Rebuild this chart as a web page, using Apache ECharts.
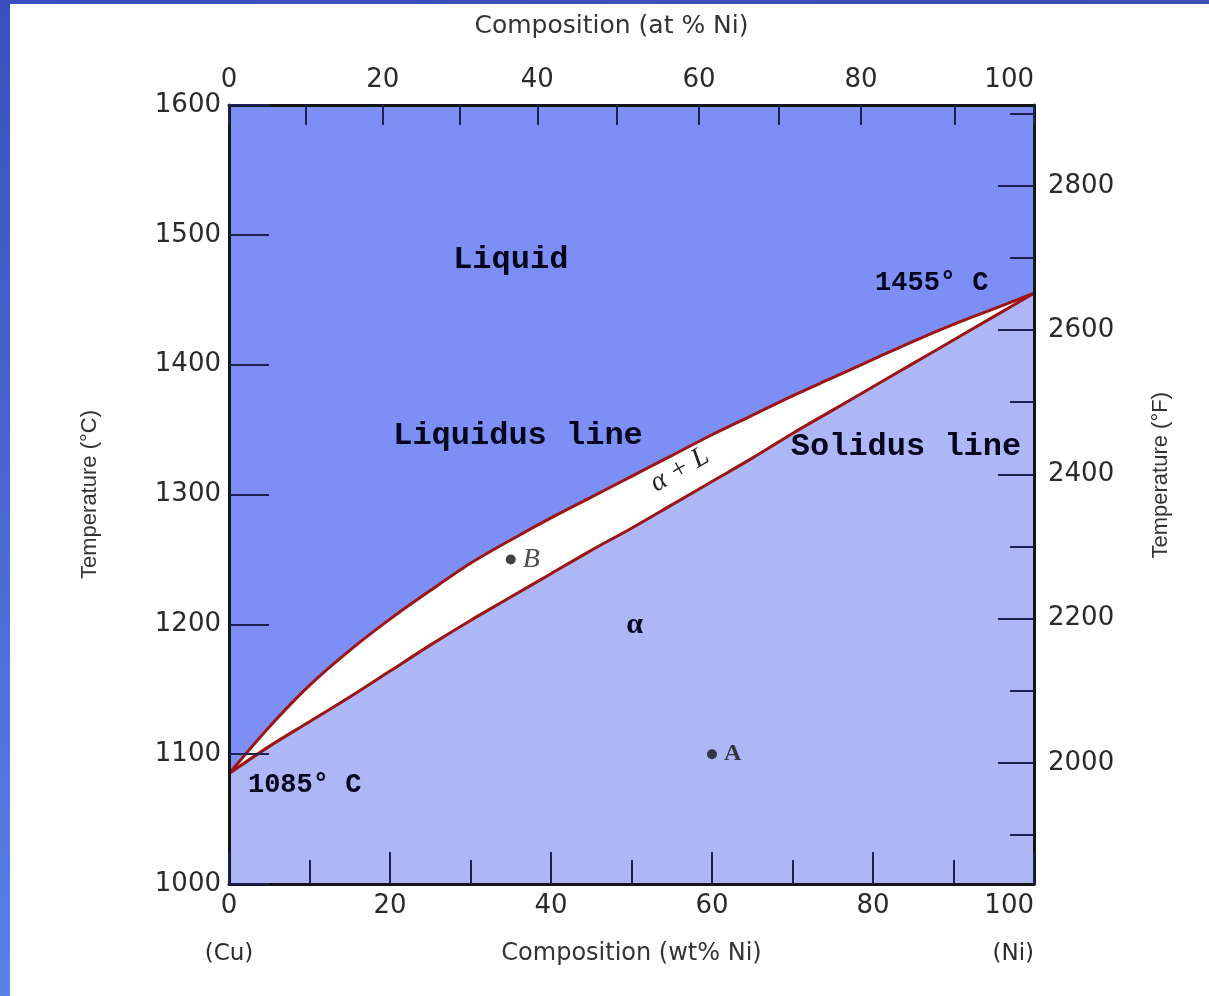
<!DOCTYPE html>
<html>
<head>
<meta charset="utf-8">
<script src="https://cdn.jsdelivr.net/npm/echarts@6/dist/echarts.min.js"></script>
<style>
html,body{margin:0;padding:0;background:#fff;}
#chart{width:1209px;height:996px;}
</style>
</head>
<body>
<div id="chart"></div>
<script>
// ---- data ----
const wtPct = [0,5,10,15,20,25,30,35,40,45,50,55,60,65,70,75,80,85,90,95,100];
const liquidusC = [1085,1121,1153,1180,1204,1226,1247,1265,1282,1298,1314,1330,1346,1361,1376,1390,1404,1418,1431,1443,1455];
const solidusC  = [1085,1106,1125,1144,1164,1184,1203,1221,1239,1257,1274,1292,1310,1328,1347,1365,1383,1401,1419,1437,1455];

// top axis: atomic % Ni ticks, placed at their wt% equivalents
const topAtPct = [0,10,20,30,40,50,60,70,80,90,100];
const topAtWt  = [0,9.5,19.1,28.7,38.3,48.2,58.4,68.3,78.5,90.1,100];
const topLabelAt = [0,20,40,60,80,100];

// °F axis ticks
const fMajor = [2000,2200,2400,2600,2800];
const fMinor = [1900,2100,2300,2500,2700,2900];

const points = [
  {name:'A', wt:60, t:1100},
  {name:'B', wt:35, t:1250}
];

const regionLabels = [
  {text:'Liquid', wt:35.0, t:1481},
  {text:'Liquidus line', wt:35.9, t:1345},
  {text:'Solidus line', wt:84.1, t:1337},
  {text:'1455° C', wt:87.3, t:1463},
  {text:'1085° C', wt:9.4, t:1076},
  {text:'α', wt:50.4, t:1199},
  {text:'α + L', wt:56.0, t:1319}
];

const cMin = 1000, cMax = 1600;
const fMin = cMin*9/5+32, fMax = cMax*9/5+32;

// ---- styling ----
const liquidColor = '#7d8ff4';
const alphaColor = '#adb7f6';
const curveColor = '#9c1414';
const inkColor = '#05061e';
const axisInk = '#151515';
const tickInk = '#1d2150';
const labelInk = '#2a2a2a';

const liqData = wtPct.map((w,i)=>[w, liquidusC[i]]);
const solData = wtPct.map((w,i)=>[w, solidusC[i]]);

const labelStyles = {
  'Liquid': {fontFamily:'Liberation Mono', fontWeight:'bold', fontSize:32},
  'Liquidus line': {fontFamily:'Liberation Mono', fontWeight:'bold', fontSize:32},
  'Solidus line': {fontFamily:'Liberation Mono', fontWeight:'bold', fontSize:32},
  '1455° C': {fontFamily:'Liberation Mono', fontWeight:'bold', fontSize:27},
  '1085° C': {fontFamily:'Liberation Mono', fontWeight:'bold', fontSize:27},
  'α': {fontFamily:'Liberation Serif', fontWeight:'bold', fontSize:30},
  'α + L': {fontFamily:'Liberation Serif', fontStyle:'italic', fontSize:28, rotate:30, color:'#222'}
};

const chart = echarts.init(document.getElementById('chart'), null, {renderer:'canvas'});

function topLabelFmt(v){
  for (let i=0;i<topAtWt.length;i++){
    if (Math.abs(topAtWt[i]-v)<1e-6) return String(topAtPct[i]);
  }
  return '';
}
const plain = v => String(v);

const gridRect = {left:229, top:105, width:805, height:779};

const option = {
  backgroundColor:'#ffffff',
  animation:false,
  graphic:[
    {type:'rect', left:0, top:0, shape:{width:10, height:996}, z:100,
     style:{fill:new echarts.graphic.LinearGradient(0,0,0,1,[{offset:0,color:'#3a4fc0'},{offset:1,color:'#5a80ea'}])}},
    {type:'rect', left:0, top:0, shape:{width:1209, height:4}, z:100,
     style:{fill:new echarts.graphic.LinearGradient(0,0,1,0,[{offset:0,color:'#3a4fc0'},{offset:1,color:'#3d4fb4'}])}},
    {type:'text', left:1150, top:392, z:100, rotation:Math.PI/2,
     style:{text:'Temperature (°F)', font:'22px "Liberation Sans"', fill:'#333'}},
  ],
  grid:[
    Object.assign({show:true, backgroundColor:liquidColor, borderWidth:0, outerBoundsMode:'none'}, gridRect),
    Object.assign({show:false, outerBoundsMode:'none'}, gridRect)
  ],
  xAxis:[
    {
      gridIndex:0, type:'value', min:0, max:100, interval:20, position:'bottom', z:10,
      name:'Composition (wt% Ni)', nameLocation:'middle', nameGap:58, nameMoveOverlap:false,
      nameTextStyle:{fontFamily:'DejaVu Sans', fontSize:24, color:'#333'},
      axisLine:{show:true, onZero:false, lineStyle:{color:axisInk, width:3}},
      axisTick:{show:true, inside:true, length:32, lineStyle:{color:tickInk, width:2}},
      minorTick:{show:true, splitNumber:2, length:24, lineStyle:{color:tickInk, width:2}},
      splitLine:{show:false},
      axisLabel:{
        margin:9, alignMaxLabel:'right',
        formatter:function(v){ if(v===0) return '{n|0}\n{g|}\n{e|(Cu)}'; if(v===100) return '{n|100}\n{g|}\n{e|(Ni)}'; return '{n|'+v+'}'; },
        rich:{
          n:{fontFamily:'DejaVu Sans', fontSize:26, color:labelInk, lineHeight:26},
          g:{lineHeight:22},
          e:{fontFamily:'DejaVu Sans', fontSize:23, color:labelInk, lineHeight:26}
        }
      }
    },
    {
      gridIndex:0, type:'value', min:0, max:100, position:'top', z:10,
      name:'Composition (at % Ni)', nameLocation:'middle', nameGap:66, nameMoveOverlap:false,
      nameTextStyle:{fontFamily:'DejaVu Sans', fontSize:25, color:'#333', padding:[0,40,0,0]},
      axisLine:{show:true, onZero:false, lineStyle:{color:axisInk, width:3}},
      axisTick:{show:true, inside:true, length:20, customValues:topAtWt, lineStyle:{color:tickInk, width:2}},
      splitLine:{show:false},
      axisLabel:{
        margin:12, alignMaxLabel:'right',
        customValues: topLabelAt.map(a=>topAtWt[topAtPct.indexOf(a)]),
        formatter:topLabelFmt,
        fontFamily:'DejaVu Sans', fontSize:26, color:labelInk
      }
    },
    {
      gridIndex:1, type:'value', min:0, max:100, show:false
    }
  ],
  yAxis:[
    {
      gridIndex:0, type:'value', min:cMin, max:cMax, interval:100, position:'left', z:10,
      name:'Temperature (°C)', nameLocation:'middle', nameGap:128, nameMoveOverlap:false,
      nameTextStyle:{fontFamily:'Liberation Sans', fontSize:22, color:'#333'},
      axisLine:{show:true, onZero:false, lineStyle:{color:axisInk, width:3}},
      axisTick:{show:true, inside:true, length:40, lineStyle:{color:tickInk, width:2}},
      splitLine:{show:false},
      axisLabel:{margin:8, formatter:plain, fontFamily:'DejaVu Sans', fontSize:26, color:labelInk}
    },
    {
      gridIndex:0, type:'value', min:fMin, max:fMax, position:'right', z:10,
      axisLine:{show:true, onZero:false, lineStyle:{color:axisInk, width:3}},
      axisTick:{show:true, inside:true, length:36, customValues:fMajor, lineStyle:{color:tickInk, width:2}},
      splitLine:{show:false},
      axisLabel:{margin:14, customValues:fMajor, formatter:plain, fontFamily:'DejaVu Sans', fontSize:26, color:labelInk}
    },
    {
      gridIndex:1, type:'value', min:fMin, max:fMax, position:'right', z:10,
      axisLine:{show:false, onZero:false},
      axisTick:{show:true, inside:true, length:24, customValues:fMinor, lineStyle:{color:tickInk, width:2}},
      splitLine:{show:false},
      axisLabel:{show:false}
    },
    {
      gridIndex:1, type:'value', min:cMin, max:cMax, position:'left', show:false,
      axisLine:{onZero:false}
    }
  ],
  series:[
    {
      name:'two-phase', type:'line', xAxisIndex:0, yAxisIndex:0, data:liqData,
      smooth:0.3, showSymbol:false, lineStyle:{width:0}, z:1,
      areaStyle:{color:'#ffffff', origin:'start', opacity:1}
    },
    {
      name:'alpha', type:'line', xAxisIndex:0, yAxisIndex:0, data:solData,
      smooth:0.3, showSymbol:false, lineStyle:{width:0}, z:2,
      areaStyle:{color:alphaColor, origin:'start', opacity:1}
    },
    {
      name:'Liquidus', type:'line', xAxisIndex:0, yAxisIndex:0, data:liqData,
      smooth:0.3, showSymbol:false, z:3,
      lineStyle:{color:curveColor, width:3}
    },
    {
      name:'Solidus', type:'line', xAxisIndex:0, yAxisIndex:0, data:solData,
      smooth:0.3, showSymbol:false, z:3,
      lineStyle:{color:curveColor, width:3}
    },
    {
      name:'points', type:'scatter', xAxisIndex:0, yAxisIndex:0, z:5,
      symbolSize:10, itemStyle:{color:'#111'},
      data: points.map(p=>({name:p.name, value:[p.wt,p.t]})),
      label:{
        show:true, position:'right', distance:7,
        formatter:function(p){ return p.name==='B' ? '{b|B}' : '{a|A}'; },
        rich:{
          b:{fontFamily:'Liberation Serif', fontStyle:'italic', fontSize:28, color:'#222'},
          a:{fontFamily:'Liberation Serif', fontWeight:'bold', fontSize:24, color:'#111'}
        }
      }
    },
    {
      name:'labels', type:'scatter', xAxisIndex:0, yAxisIndex:0, z:6,
      symbolSize:0, silent:true,
      data: regionLabels.map(r=>{
        const s = labelStyles[r.text] || {};
        return {
          name:r.text, value:[r.wt,r.t],
          label:Object.assign({show:true, position:'inside', formatter:r.text, color:inkColor, opacity:1}, s)
        };
      })
    }
  ]
};
chart.setOption(option);
</script>
</body>
</html>
